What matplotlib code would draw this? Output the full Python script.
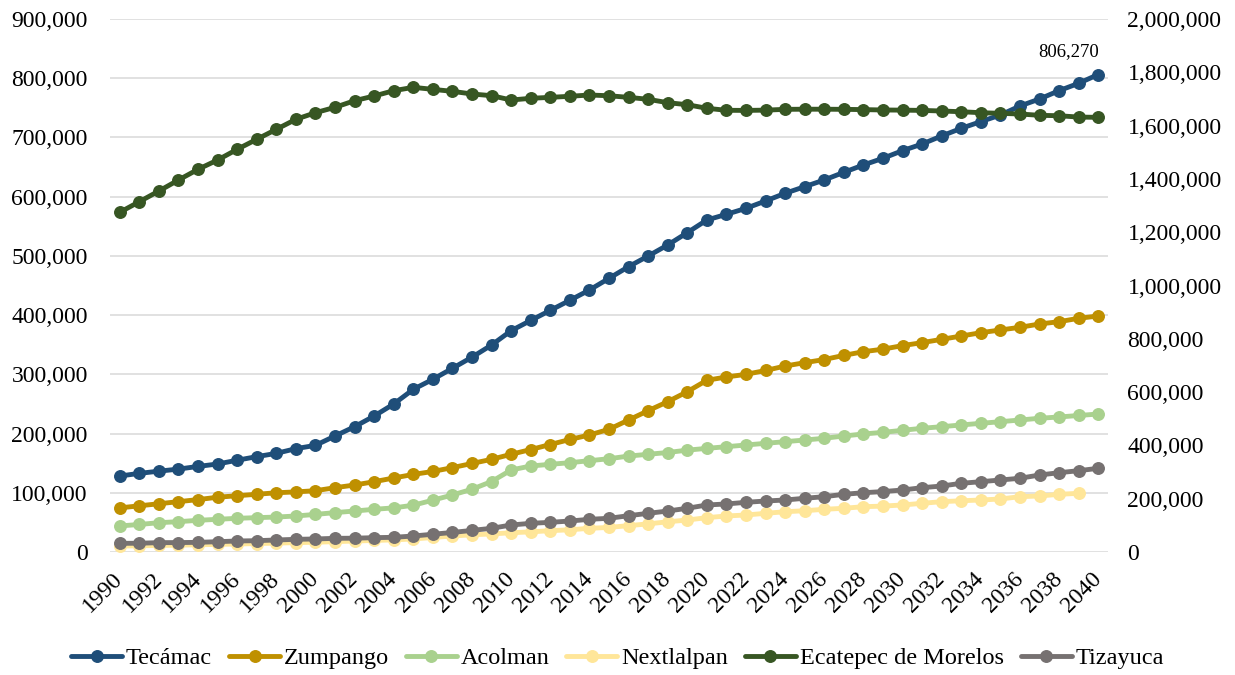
import matplotlib
matplotlib.use('Agg')
import matplotlib.pyplot as plt
from matplotlib.ticker import FuncFormatter, MultipleLocator

years = list(range(1990, 2041))
years_nextlalpan = list(range(1990, 2040))

tecamac = [128300, 132800, 136500, 140000, 144500, 148600, 155000, 161000, 166600, 174500,
           180100, 195900, 211600, 229600, 249900, 274700, 291600, 310200, 329000, 349500,
           373700, 391000, 408000, 425000, 442400, 462100, 481800, 499800, 518400, 539200,
           560600, 570200, 580300, 592700, 605700, 616900, 628200, 641100, 653500, 664800,
           677700, 688900, 702500, 715400, 726700, 737900, 753100, 764900, 779000, 791400,
           806270]
zumpango = [74500, 78000, 81500, 85000, 88500, 92500, 95000, 97500, 100000, 101500,
            103500, 108600, 113100, 118700, 125000, 131000, 136000, 142500, 149500, 156500,
            165000, 173000, 181500, 190000, 197600, 207200, 222900, 238600, 253800, 270700,
            290000, 295500, 300000, 306500, 314000, 319700, 325000, 332000, 338200, 342500,
            348500, 353500, 359100, 364700, 370300, 374900, 379400, 385000, 388900, 394600,
            398500]
acolman = [44000, 46500, 49500, 51200, 53500, 55200, 56900, 58000, 59000, 60800,
           63500, 66500, 69200, 72100, 74500, 79000, 87500, 96300, 106000, 119000,
           138500, 145200, 148100, 150800, 154200, 157500, 162000, 165000, 168000, 172000,
           175000, 177800, 180700, 183500, 186300, 189100, 192000, 195900, 199300, 202000,
           205500, 208900, 211600, 214500, 217300, 220000, 222900, 225800, 228000, 230500,
           233000]
nextlalpan = [10000, 10500, 11000, 11500, 12200, 12800, 13500, 14200, 15000, 15800,
              16500, 17500, 18500, 19500, 20500, 22000, 24500, 27000, 29000, 30500,
              32500, 34000, 36000, 37500, 40000, 41500, 44500, 47500, 51000, 54000,
              58000, 60800, 62500, 65300, 68000, 69700, 72100, 73800, 76500, 77500,
              79400, 82200, 85000, 86500, 87800, 89500, 93400, 94600, 97400, 99100]
ecatepec = [1274700, 1314500, 1354600, 1395900, 1436000, 1470900, 1511000, 1548600, 1586000, 1623600,
            1648400, 1668600, 1693500, 1711100, 1731000, 1743600, 1736000, 1728500, 1718600, 1712300,
            1696000, 1702400, 1706000, 1710000, 1714800, 1712000, 1706000, 1698700, 1686000, 1678400,
            1665000, 1657400, 1657000, 1658000, 1661000, 1661500, 1661500, 1661000, 1660000, 1658600,
            1658000, 1657000, 1654800, 1652000, 1648400, 1646000, 1643500, 1638600, 1637000, 1632000,
            1631000]
tizayuca = [14600, 14800, 15800, 15900, 16300, 17400, 18600, 19100, 20300, 21400,
            22000, 23100, 23300, 24200, 24800, 27000, 30000, 33000, 36500, 40000,
            45600, 48400, 50100, 52300, 55200, 56900, 61300, 65300, 69200, 73800,
            79400, 81100, 83900, 86100, 87800, 90700, 93400, 97400, 100100, 102000,
            104700, 108600, 111400, 116000, 118700, 121600, 124500, 130000, 133900, 137300,
            141300]

names = ["Tecámac", "Zumpango", "Acolman", "Nextlalpan", "Ecatepec de Morelos", "Tizayuca"]
colors = {"Tecámac": "#1F4E79", "Zumpango": "#BF9000", "Acolman": "#A9D18E",
          "Nextlalpan": "#FFE699", "Ecatepec de Morelos": "#375623", "Tizayuca": "#767171"}

plt.rcParams['font.family'] = ['Liberation Serif', 'DejaVu Serif']

fig = plt.figure(figsize=(12.35, 6.75), dpi=100)
ax = fig.add_axes([110/1235, 1-552/675, 998/1235, 533/675])
ax2 = ax.twinx()

lw = 3.5
ms = 8.3
kw = dict(lw=lw, marker='o', ms=ms, solid_capstyle='round')

handles = {}
handles["Tecámac"], = ax.plot(years, tecamac, color=colors["Tecámac"], **kw)
handles["Zumpango"], = ax.plot(years, zumpango, color=colors["Zumpango"], **kw)
handles["Acolman"], = ax.plot(years, acolman, color=colors["Acolman"], **kw)
handles["Nextlalpan"], = ax.plot(years_nextlalpan, nextlalpan, color=colors["Nextlalpan"], **kw)
handles["Tizayuca"], = ax.plot(years, tizayuca, color=colors["Tizayuca"], **kw)
handles["Ecatepec de Morelos"], = ax2.plot(years, ecatepec, color=colors["Ecatepec de Morelos"], **kw)

ax.set_xlim(1989.5, 2040.5)
ax.set_ylim(0, 900000)
ax2.set_ylim(0, 2000000)
ax.yaxis.set_major_locator(MultipleLocator(100000))
ax2.yaxis.set_major_locator(MultipleLocator(200000))
fmt = FuncFormatter(lambda v, p: f"{int(round(v)):,}")
ax.yaxis.set_major_formatter(fmt)
ax2.yaxis.set_major_formatter(fmt)

ax.set_xticks(years[::2])
ax.set_xticklabels([str(y) for y in years[::2]], rotation=45, ha='right',
                   rotation_mode='anchor', va='center')

ax.grid(axis='y', color='#D9D9D9', lw=1.1)
ax.set_axisbelow(True)
for a in (ax, ax2):
    for s in a.spines.values():
        s.set_visible(False)
ax.tick_params(axis='both', length=0, labelsize=17, colors='black')
ax.tick_params(axis='y', pad=16)
ax.tick_params(axis='x', pad=17)
ax2.tick_params(axis='y', length=0, labelsize=17, pad=14)

# data label for last Tecámac point
ax.annotate(f"{tecamac[-1]:,}", xy=(years[-1], tecamac[-1]), xytext=(-30, 23),
            textcoords='offset pixels', ha='center', va='center', fontsize=13.5)

leg = fig.legend([handles[n] for n in names], names, loc='center', bbox_to_anchor=(0.5, 1-658/675),
                 ncol=6, frameon=False, fontsize=17.5, handlelength=2.1, handletextpad=0.15,
                 columnspacing=0.7, borderaxespad=0)

fig.savefig('out.png', dpi=100)
